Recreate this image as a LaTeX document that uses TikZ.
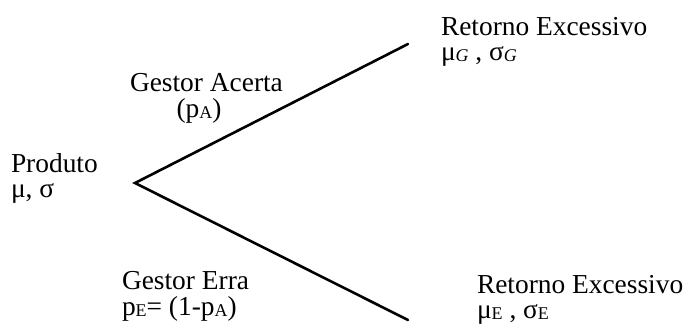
\documentclass[tikz,border=0pt]{standalone}
\usepackage{fontspec}
\newfontfamily\labfont{Liberation Serif}
\newcommand\sbx[1]{\raisebox{-1.5pt}{\fontsize{18}{18}\selectfont #1}}
\tikzset{
  lab/.style={inner sep=0pt, outer sep=0pt, font=\labfont\fontsize{27.5}{25}\selectfont},
  branch/.style={line width=2.6bp, line cap=round}
}
\begin{document}
\begin{tikzpicture}[x=1bp,y=-1bp]
\useasboundingbox (0,0) rectangle (693,329);
\coordinate (apex) at (135,183);
\coordinate (topend) at (408,44);
\coordinate (botend) at (408,320);
\draw[branch] (topend) -- (apex) -- (botend);
\node[lab, anchor=base west] (prod1) at (11,172) {Produto};
\node[lab, anchor=base west] (prod2) at (11,197) {μ, σ};
\node[lab, anchor=base west] (ga1) at (130,91) {Gestor Acerta};
\node[lab, anchor=base] (ga2) at (199,117) {(p\sbx{A})};
\node[lab, anchor=base west] (rt1) at (441,35) {Retorno Excessivo};
\node[lab, anchor=base west] (rt2) at (441,60) {μ\sbx{\itshape G} , σ\sbx{\itshape G}};
\node[lab, anchor=base west] (ge1) at (122,289) {Gestor Erra};
\node[lab, anchor=base west] (ge2) at (122,315) {p\sbx{E}= (1-p\sbx{A})};
\node[lab, anchor=base west] (rb1) at (477,293) {Retorno Excessivo};
\node[lab, anchor=base west] (rb2) at (477,318) {μ\sbx{E} , σ\sbx{E}};
\end{tikzpicture}
\end{document}
